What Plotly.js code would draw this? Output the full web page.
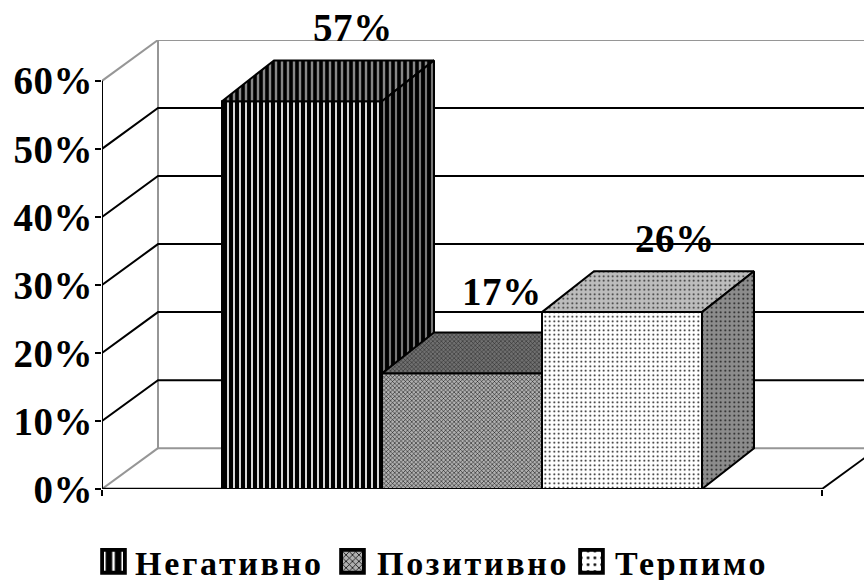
<!DOCTYPE html>
<html><head><meta charset="utf-8">
<script src="https://cdn.plot.ly/plotly-3.0.0.min.js"></script>
<style>
html,body{margin:0;padding:0;background:#fff}
#c{width:864px;height:580px}
.legendtext{letter-spacing:2.7px}
.ytick text,.annotation-text{letter-spacing:0.6px}
</style></head><body><div id="c"></div>
<script>
const categories = ['Негативно','Позитивно','Терпимо'];
const values = [57,17,26];
const labels = ['57%','17%','26%'];
const yTicks = [0,10,20,30,40,50,60];
const yTickText = ['0%','10%','20%','30%','40%','50%','60%'];
const gridValues = [10,20,30,40,50];

const barX = [1.25,2.25,3.25];
const floorEnd = 4.5, xMax = 4.7625, yMax = 66;
const wallDx = 0.35, wallDy = 6, barDx = 0.325, barDy = 6;
const labelDx = [51,40,53], labelDy = [74,82,74];
const legendTextX = [135,377,615], legendSwatchX = [113.5,352.5,591.5];

const font = 'Liberation Serif, Times New Roman, serif';
const faces = [
 {front:{shape:'|',bgcolor:'#ffffff',fgcolor:'#000000',size:6,solidity:0.72},
  top:{shape:'|',bgcolor:'#888888',fgcolor:'#000000',size:6,solidity:0.6},
  side:{shape:'|',bgcolor:'#777777',fgcolor:'#000000',size:6,solidity:0.65}},
 {front:{shape:'x',bgcolor:'#b0b0b0',fgcolor:'#000000',size:3,solidity:0.3},
  top:{shape:'x',bgcolor:'#707070',fgcolor:'#222222',size:3,solidity:0.3},
  side:{shape:'x',bgcolor:'#707070',fgcolor:'#222222',size:3,solidity:0.3}},
 {front:{shape:'.',bgcolor:'#ffffff',fgcolor:'#000000',size:4.5,solidity:0.13},
  top:{shape:'.',bgcolor:'#bdbdbd',fgcolor:'#222222',size:4.5,solidity:0.13},
  side:{shape:'.',bgcolor:'#8c8c8c',fgcolor:'#111111',size:4.5,solidity:0.13}}
];

const traces = [];
function line(xs, ys, color, width){
  traces.push({type:'scatter',mode:'lines',x:xs,y:ys,line:{color:color,width:width},
    cliponaxis:false,showlegend:false,hoverinfo:'skip',xaxis:'x',yaxis:'y'});
}
line([wallDx,wallDx,xMax+0.01,null,wallDx,xMax+0.01],[yMax,wallDy,wallDy,null,yMax,yMax],'#969696',2);
line([0,wallDx,null,0,wallDx],[0,wallDy,null,yTicks[6],yMax],'#969696',2);
const gx=[],gy=[];
gridValues.forEach(v=>{gx.push(0,wallDx,xMax+0.01,null);gy.push(v,v+wallDy,v+wallDy,null);});
line(gx,gy,'#000000',2);
line([0,0],[0,yTicks[6]],'#000000',2);
line([0,floorEnd],[0,0],'#000000',2.5);
line([floorEnd,xMax+0.01],[0,(xMax+0.01-floorEnd)/wallDx*wallDy],'#000000',2);

const layout = {
  width:864,height:580,paper_bgcolor:'#fff',plot_bgcolor:'#fff',
  margin:{l:102,r:0,t:39.5,b:90.5,autoexpand:false},
  showlegend:true,barmode:'overlay',bargap:0,
  font:{family:font,color:'#000'},
  xaxis:{range:[0,xMax],showgrid:false,zeroline:false,showline:false,tickmode:'array',
    tickvals:[0,floorEnd],ticktext:['',''],ticks:'outside',ticklen:6,tickwidth:2,tickcolor:'#000'},
  yaxis:{range:[0,yMax],showgrid:false,zeroline:false,showline:false,tickmode:'array',
    tickvals:yTicks,ticktext:yTickText,ticks:'outside',ticklen:6,tickwidth:2,tickcolor:'#000',
    ticklabelstandoff:-6,
    tickfont:{family:font,size:39,color:'#000',weight:700}},
  legend:{orientation:'h',xanchor:'left',yanchor:'middle',x:-0.01,y:-0.162,
    font:{family:font,size:34,color:'#000',weight:700},bgcolor:'rgba(0,0,0,0)',
    traceorder:'normal',itemclick:false,itemdoubleclick:false},
  annotations:[]
};

function poly(xs,ys,pat,xa,ya){
  traces.push({type:'scatter',mode:'lines',x:xs,y:ys,fill:'toself',fillcolor:pat.bgcolor,
    fillpattern:pat,line:{color:'#000',width:2},cliponaxis:false,showlegend:false,
    hoverinfo:'skip',xaxis:xa,yaxis:ya});
}
categories.forEach((name,i)=>{
  const n=i+2, xa='x'+n, ya='y'+n;
  layout['xaxis'+n]={range:[0,xMax],overlaying:'x',visible:false,anchor:ya};
  layout['yaxis'+n]={range:[0,yMax],overlaying:'y',visible:false,anchor:xa};
  const v=values[i], l=barX[i]-0.5, r=barX[i]+0.5;
  traces.push({type:'bar',name:name,x:[barX[i]],y:[v],width:[1],xaxis:xa,yaxis:ya,
    marker:{color:faces[i].front.bgcolor,pattern:faces[i].front,line:{color:'#000',width:2}},
    cliponaxis:false,hoverinfo:'skip'});
  poly([l,l+barDx,r+barDx,r,l],[v,v+barDy,v+barDy,v,v],faces[i].top,xa,ya);
  poly([r,r+barDx,r+barDx,r,r],[0,barDy,v+barDy,v,0],faces[i].side,xa,ya);
  layout.annotations.push({x:barX[i],y:v,xref:xa,yref:ya,text:'<b>'+labels[i]+'</b>',showarrow:false,
    xanchor:'center',yanchor:'middle',xshift:labelDx[i],yshift:labelDy[i],
    font:{family:font,size:39,color:'#000'}});
});

Plotly.newPlot('c',traces,layout,{displayModeBar:false,staticPlot:true}).then(gd=>{
  const leg = gd.querySelector('g.legend');
  const m = /translate\(\s*([-\d.]+)/.exec(leg.getAttribute('transform')||'');
  const lx = m ? parseFloat(m[1]) : 0;
  const box = leg.querySelector('.scrollbox');
  if (box) { box.removeAttribute('clip-path'); box.style.clipPath = 'none'; }
  leg.querySelectorAll('g.traces').forEach((g,i)=>{
    const t = /translate\(\s*[-\d.]+\s*,\s*([-\d.]+)/.exec(g.getAttribute('transform')||'');
    const ty = t ? parseFloat(t[1]) : 0;
    g.setAttribute('transform','translate('+(legendTextX[i]-40-lx)+','+ty+')');
    g.querySelectorAll('.legendsymbols path').forEach(p=>{
      p.setAttribute('transform','translate('+(legendSwatchX[i]-legendTextX[i]+40)+',0) scale(1.9)');
    });
  });
});
</script></body></html>
